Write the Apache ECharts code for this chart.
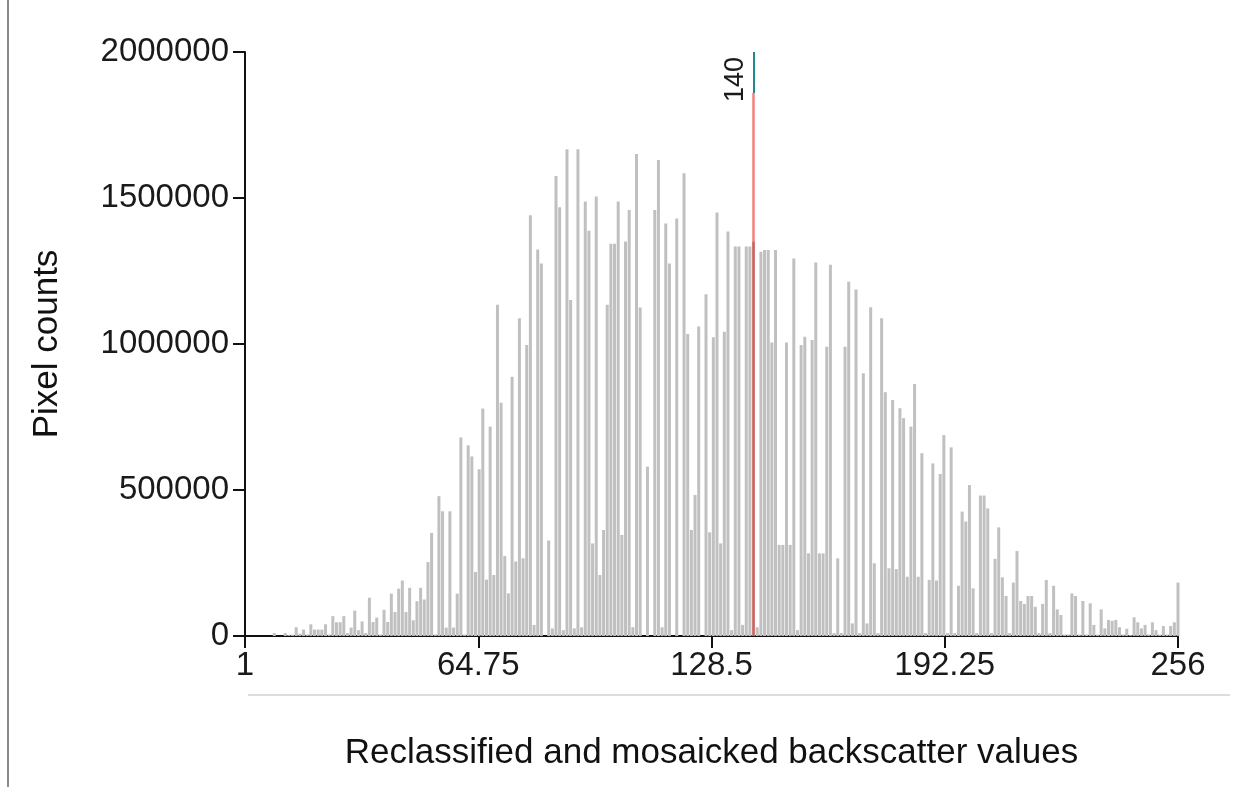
<!DOCTYPE html>
<html>
<head>
<meta charset="utf-8">
<title>Backscatter histogram</title>
<script src="https://cdn.jsdelivr.net/npm/echarts@6.0.0/dist/echarts.min.js"></script>
<style>
  html, body { margin: 0; padding: 0; background: #fff; }
  #chart { width: 1255px; height: 787px; }
</style>
</head>
<body>
<div id="chart"></div>
<script>
// histogram bins: backscatter values 1..256
const firstBin = 1;
const pixelCounts = [
  0, 0, 0, 0, 0, 0, 0, 0, 10000, 0, 0, 10000, 3000, 5000, 30000, 8000,
  22000, 5000, 40000, 22000, 22000, 22000, 40000, 5000, 68000, 47000, 47000, 68000, 10000, 29000, 87000, 20000,
  50000, 10000, 131000, 48000, 63000, 5000, 90000, 48000, 145000, 82000, 162000, 190000, 82000, 165000, 54000, 119000,
  165000, 125000, 253000, 353000, 5000, 479000, 427000, 29000, 427000, 29000, 145000, 680000, 5000, 653000, 615000, 219000,
  571000, 779000, 193000, 717000, 209000, 1134000, 799000, 274000, 146000, 888000, 255000, 1088000, 266000, 997000, 1441000, 38000,
  1324000, 1276000, 0, 327000, 26000, 1575000, 1468000, 20000, 1667000, 1151000, 26000, 1667000, 30000, 1488000, 1388000, 317000,
  1505000, 209000, 363000, 1134000, 1343000, 1343000, 1488000, 346000, 1351000, 1459000, 30000, 1651000, 1125000, 0, 580000, 0,
  1459000, 1630000, 30000, 1413000, 1276000, 0, 1430000, 0, 1585000, 1034000, 363000, 483000, 1060000, 0, 1170000, 355000,
  1023000, 1450000, 317000, 1042000, 1385000, 20000, 1334000, 1334000, 38000, 1334000, 1334000, 1350000, 30000, 1316000, 1322000, 1322000,
  1005000, 1322000, 312000, 312000, 1005000, 312000, 1293000, 20000, 997000, 1025000, 283000, 1014000, 1279000, 283000, 283000, 991000,
  1271000, 10000, 266000, 10000, 991000, 1213000, 43000, 1187000, 10000, 900000, 43000, 1126000, 249000, 10000, 1088000, 835000,
  232000, 808000, 229000, 780000, 746000, 203000, 717000, 863000, 203000, 626000, 10000, 192000, 591000, 190000, 555000, 688000,
  10000, 646000, 10000, 172000, 426000, 392000, 517000, 163000, 10000, 481000, 481000, 437000, 10000, 264000, 372000, 201000,
  137000, 10000, 183000, 291000, 120000, 110000, 137000, 137000, 100000, 10000, 110000, 192000, 10000, 172000, 91000, 72000,
  5000, 5000, 146000, 137000, 5000, 120000, 5000, 112000, 38000, 5000, 91000, 26000, 55000, 52000, 55000, 30000,
  5000, 25000, 3000, 64000, 47000, 26000, 38000, 5000, 47000, 20000, 5000, 34000, 5000, 34000, 47000, 183000
];
const lastBin = firstBin + pixelCounts.length - 1;

// threshold marker
const cutValue = 140;
const cutSplit = 1860000;   // where the red part ends and the teal cap starts

const yMax = 2000000;
const yStep = 500000;
const xTickCount = 4;       // 1, 64.75, 128.5, 192.25, 256

const xTitle = 'Reclassified and mosaicked backscatter values';
const yTitle = 'Pixel counts';

const font = "'Liberation Sans', Arial, sans-serif";

// the x axis runs from 0 so its ticks start at a multiple of the interval,
// bins are shifted by firstBin and the labels shifted back
const span = lastBin - firstBin;
const barData = pixelCounts.map(function (c, i) { return [i, c]; });

const chart = echarts.init(document.getElementById('chart'));
chart.setOption({
  animation: false,
  backgroundColor: '#fff',
  grid: { left: 245, right: 77, top: 52, bottom: 151 },
  xAxis: {
    type: 'value',
    min: 0,
    max: span,
    interval: span / xTickCount,
    name: xTitle,
    nameLocation: 'middle',
    nameGap: 100,
    nameTextStyle: { fontSize: 35, color: '#111', fontFamily: font },
    axisLine: { lineStyle: { color: '#111', width: 2 } },
    axisTick: { length: 12, lineStyle: { color: '#111', width: 2 } },
    axisLabel: {
      fontSize: 33, color: '#1a1a1a', fontFamily: font, margin: 13,
      formatter: function (v) { return String(Math.round((v + firstBin) * 100) / 100); }
    },
    splitLine: { show: false }
  },
  yAxis: {
    type: 'value',
    min: 0,
    max: yMax,
    interval: yStep,
    name: yTitle,
    nameLocation: 'middle',
    nameRotate: 90,
    nameGap: 180,
    nameTextStyle: { fontSize: 35, color: '#111', fontFamily: font },
    axisLine: { show: true, lineStyle: { color: '#111', width: 2 } },
    axisTick: { show: true, length: 12, lineStyle: { color: '#111', width: 2 } },
    axisLabel: {
      fontSize: 33, color: '#1a1a1a', fontFamily: font, margin: 16,
      formatter: function (v) { return String(v); }
    },
    splitLine: { show: false }
  },
  graphic: [
    { type: 'line', shape: { x1: 8, y1: 0, x2: 8, y2: 787 }, style: { stroke: '#8a8a8a', lineWidth: 2 } },
    { type: 'line', shape: { x1: 248, y1: 695, x2: 1230, y2: 695 }, style: { stroke: '#dddddd', lineWidth: 2 } }
  ],
  series: [{
    type: 'bar',
    data: barData,
    barWidth: 3,
    itemStyle: { color: '#c0c0c0' },
    silent: true,
    markLine: {
      silent: true,
      symbol: 'none',
      animation: false,
      label: { show: false },
      data: [
        [
          { coord: [cutValue - firstBin, 0], lineStyle: { color: 'rgba(232,0,0,0.5)', width: 2.5, type: 'solid' } },
          { coord: [cutValue - firstBin, cutSplit] }
        ],
        [
          {
            coord: [cutValue - firstBin, cutSplit],
            lineStyle: { color: '#1f8a8c', width: 2, type: 'solid' },
            label: {
              show: true, formatter: String(cutValue), position: 'insideEndTop',
              fontSize: 27, color: '#1a1a1a', fontFamily: font, distance: 5
            }
          },
          { coord: [cutValue - firstBin, yMax] }
        ]
      ]
    }
  }]
});
</script>
</body>
</html>
